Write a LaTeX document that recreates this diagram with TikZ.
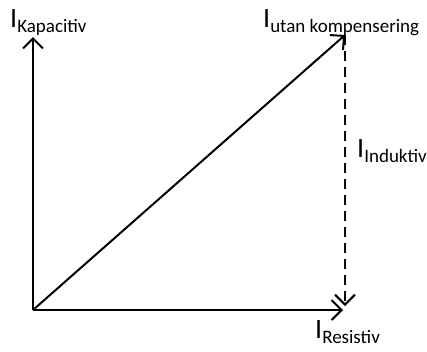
\documentclass[tikz,border=0pt]{standalone}
\usepackage{fontspec}
\setmainfont{Carlito}
\usetikzlibrary{arrows.meta}
\tikzset{
    phasor/.style={
        line width=2pt,
        -{Straight Barb[length=10pt, width=20pt]},
    },
    phasor dashed/.style={
        phasor,
        dash pattern=on 10pt off 6pt,
    },
    current label/.style={
        anchor=base west,
        inner sep=0pt,
    },
}
\newcommand{\curLabel}[1]{%
    {\fontsize{28}{28}\selectfont I}\raisebox{-5pt}{\fontsize{19}{20}\selectfont #1}}

\begin{document}
\begin{tikzpicture}[x=1pt, y=-1pt]
\useasboundingbox (0,0) rectangle (427,351);

% ── POINTS ─────────────────────────────────────────────────────────
\coordinate (origin) at (33, 310);
\coordinate (res)    at (343, 310);
\coordinate (cap)    at (33, 37);
\coordinate (total)  at (345, 35);
\coordinate (ind)    at (345, 306);

% ── PHASORS ────────────────────────────────────────────────────────
\draw[phasor] (origin) -- (res);
\draw[phasor] (origin) -- (cap);
\draw[phasor] (origin) -- (total);
\draw[phasor dashed] (total) -- (ind);

% ── LABELS ─────────────────────────────────────────────────────────
\node[current label] (capLabel)   at (10, 27)  {\curLabel{Kapacitiv}};
\node[current label] (totalLabel) at (263, 27) {\curLabel{utan kompensering}};
\node[current label] (indLabel)   at (357, 157) {\curLabel{Induktiv}};
\node[current label] (resLabel)   at (315, 338) {\curLabel{Resistiv}};

\end{tikzpicture}
\end{document}
